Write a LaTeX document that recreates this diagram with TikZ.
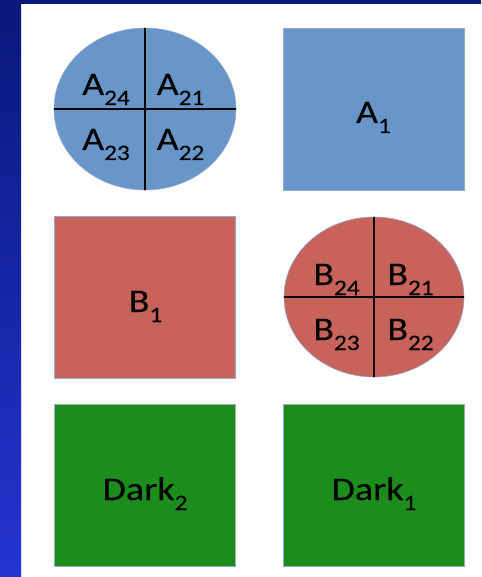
\documentclass[tikz,border=0pt]{standalone}
\usepackage{fontspec}
\setmainfont{Carlito}[FakeStretch=1.15,FakeBold=0.15]
\usetikzlibrary{shapes.geometric}
\definecolor{ablue}{RGB}{104,150,200}
\definecolor{bred}{RGB}{199,99,90}
\definecolor{dgreen}{RGB}{28,140,28}
\definecolor{edgec}{RGB}{150,170,205}
\definecolor{navytop}{RGB}{10,24,122}
\definecolor{bandbot}{RGB}{36,52,210}
\newcommand{\lblsub}[2]{#1\raisebox{-10pt}{\fontsize{22}{22}\selectfont #2}}
\begin{document}
\begin{tikzpicture}[x=1pt,y=-1pt,
  sq/.style={draw=edgec,line width=0.8pt,minimum width=181pt,minimum height=162pt,inner sep=0pt},
  ell/.style={ellipse,draw=edgec,line width=0.6pt,inner sep=0pt},
  divline/.style={line width=2.6pt,black},
  lbl/.style={font=\fontsize{33}{40}\selectfont,inner sep=0pt,anchor=base}]
\useasboundingbox (0,0) rectangle (481,577);
\fill[white] (0,0) rectangle (481,577);
\shade[top color=navytop,bottom color=bandbot] (0,0) rectangle (21,577);
\fill[navytop] (0,0) rectangle (481,4);
% row 1
\node[ell,fill=ablue,minimum width=182pt,minimum height=162pt] (ellA) at (145,109) {};
\draw[divline] (ellA.north) -- (ellA.south);
\draw[divline] (ellA.west) -- (ellA.east);
\node[lbl] (a24) at (106,95) {\lblsub{A}{24}};
\node[lbl] (a21) at (180.5,95) {\lblsub{A}{21}};
\node[lbl] (a23) at (106,150) {\lblsub{A}{23}};
\node[lbl] (a22) at (180.5,150) {\lblsub{A}{22}};
\node[sq,fill=ablue] (sqA) at (373.5,109) {};
\node[lbl] (a1) at (373.5,123) {\lblsub{A}{1}};
% row 2
\node[sq,fill=bred] (sqB) at (144.5,297) {};
\node[lbl] (b1) at (145.5,312) {\lblsub{B}{1}};
\node[ell,fill=bred,minimum width=180pt,minimum height=160pt] (ellB) at (374,297) {};
\draw[divline] (ellB.north) -- (ellB.south);
\draw[divline] (ellB.west) -- (ellB.east);
\node[lbl] (b24) at (336.5,285) {\lblsub{B}{24}};
\node[lbl] (b21) at (410.5,285) {\lblsub{B}{21}};
\node[lbl] (b23) at (336.5,340) {\lblsub{B}{23}};
\node[lbl] (b22) at (410.5,340) {\lblsub{B}{22}};
% row 3
\node[sq,fill=dgreen] (dk2) at (144.5,485.5) {};
\node[lbl] (dk2t) at (145,500) {\lblsub{Dark}{2}};
\node[sq,fill=dgreen] (dk1) at (374,485.5) {};
\node[lbl] (dk1t) at (374,500) {\lblsub{Dark}{1}};
\end{tikzpicture}
\end{document}
